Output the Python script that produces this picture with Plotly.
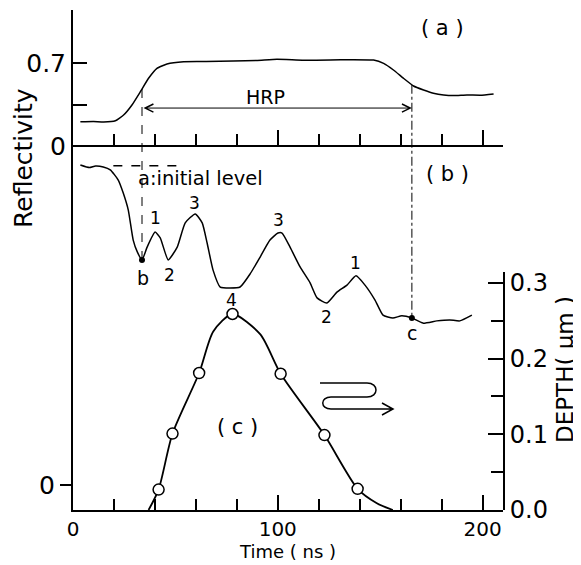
import numpy as np
import plotly.graph_objects as go

# ---- data ----
# (a) reflectivity vs time
t_a = [3.6, 10, 15, 20.7, 24.7, 28.8, 32.9, 36.9, 41.0, 45.9, 54.0, 65, 78.3, 90, 99.6,
       112, 125.6, 136, 146.8, 151.7, 156.5, 161.4, 166.3, 171.2, 176, 181.0, 186, 192.4, 199, 205.4]
r_a = [0.205, 0.207, 0.203, 0.213, 0.261, 0.346, 0.458, 0.571, 0.655, 0.692, 0.711, 0.712, 0.717,
       0.722, 0.731, 0.724, 0.725, 0.728, 0.725, 0.697, 0.641, 0.571, 0.506, 0.472, 0.445, 0.430,
       0.425, 0.430, 0.428, 0.439]

# (b) reflectivity (relative to initial level a)
t_b = [3.6, 8, 11, 14.8, 18.2, 22.1, 24.5, 27.0, 29.4, 31.4, 33.7, 36.2, 40.1, 42.6, 46.5, 50.9,
       54.8, 59.7, 63.1, 65.5, 68.4, 71.9, 76.7, 81.6, 86.5, 91.4, 96.2, 100.1, 102.1, 106.0,
       110.9, 115.8, 119.2, 124.0, 128.9, 133.8, 138.2, 142.6, 147.5, 151.4, 156.2, 160.6,
       165.5, 170.9, 177.7, 184.0, 188.9, 194.8]
r_b = [1.002, 0.994, 0.999, 0.996, 0.987, 0.955, 0.915, 0.861, 0.767, 0.730, 0.705, 0.745, 0.792,
       0.774, 0.705, 0.745, 0.821, 0.849, 0.821, 0.758, 0.673, 0.620, 0.617, 0.620, 0.661, 0.714,
       0.767, 0.789, 0.789, 0.745, 0.683, 0.633, 0.586, 0.570, 0.604, 0.626, 0.655, 0.626, 0.579,
       0.532, 0.523, 0.530, 0.523, 0.507, 0.514, 0.517, 0.514, 0.532]

# (c) melt depth
t_c_pts = [41.8, 48.6, 61.6, 77.9, 101.4, 122.8, 139.0]
d_c_pts = [0.027, 0.101, 0.181, 0.259, 0.180, 0.099, 0.028]
t_c_line = [36.9, 41.8, 48.6, 61.6, 68.5, 77.9, 91.5, 101.4, 122.8, 139.0, 148.4, 156.2]
d_c_line = [0.0, 0.027, 0.101, 0.181, 0.236, 0.259, 0.232, 0.180, 0.099, 0.028, 0.009, 0.0]

t_mark_b, t_mark_c = 33.7, 165.5
peak_labels_t = [40.2, 47.0, 59.3, 100.2, 123.7, 137.8]
peak_labels_v = [0.836, 0.658, 0.883, 0.830, 0.526, 0.695]
peak_labels = ["1", "2", "3", "3", "2", "1"]

x_ticks = [0, 100, 200]
depth_ticks = [0.0, 0.1, 0.2, 0.3]

# ---- axes ranges ----
XR = [0, 210]
YA = [-3.070, 1.147]     # reflectivity (a)
YB = [-0.0783, 1.4876]   # reflectivity (b)
YD = [0, 0.3145]         # depth
FONT = "DejaVu Sans"


def b_to_a(v):
    f = (v - YB[0]) / (YB[1] - YB[0])
    return YA[0] + f * (YA[1] - YA[0])


fig = go.Figure()
fig.add_trace(go.Scatter(x=t_a, y=r_a, xaxis="x2", yaxis="y", mode="lines",
                         line=dict(color="black", width=1.5, shape="spline", smoothing=0.4),
                         hoverinfo="skip"))
fig.add_trace(go.Scatter(x=t_b, y=r_b, xaxis="x", yaxis="y2", mode="lines",
                         line=dict(color="black", width=1.5, shape="spline", smoothing=0.5),
                         hoverinfo="skip"))
rb_b = float(np.interp(t_mark_b, t_b, r_b))
rb_c = float(np.interp(t_mark_c, t_b, r_b))
fig.add_trace(go.Scatter(x=[t_mark_b, t_mark_c], y=[rb_b, rb_c], xaxis="x", yaxis="y2",
                         mode="markers", marker=dict(color="black", size=6)))
fig.add_trace(go.Scatter(x=t_c_line, y=d_c_line, xaxis="x", yaxis="y3", mode="lines",
                         line=dict(color="black", width=1.8, shape="spline", smoothing=0.7)))
fig.add_trace(go.Scatter(x=t_c_pts, y=d_c_pts, xaxis="x", yaxis="y3", mode="markers",
                         marker=dict(symbol="circle", size=11, color="white",
                                     line=dict(color="black", width=1.5))))

ra_b = float(np.interp(t_mark_b, t_a, r_a))
ra_c = float(np.interp(t_mark_c, t_a, r_a))
shapes = [
    dict(type="line", xref="x", yref="y", x0=t_mark_b, x1=t_mark_b, y0=ra_b, y1=b_to_a(rb_b),
         line=dict(color="black", width=1, dash="dash")),
    dict(type="line", xref="x", yref="y", x0=t_mark_c, x1=t_mark_c, y0=ra_c, y1=b_to_a(rb_c),
         line=dict(color="black", width=1, dash="dashdot")),
    dict(type="line", xref="x", yref="y2", x0=19.7, x1=51.4, y0=1.0, y1=1.0,
         line=dict(color="black", width=1.5, dash="dash")),
]


# wiggle arrow symbol (reference pixel -> paper fraction of plot area)
def px(xp):
    return (xp - 73) / 430


def py(yp):
    return (510 - yp) / 500


path = (f"M{px(320)},{py(383)} L{px(367)},{py(383)} "
        f"C{px(379)},{py(383)} {px(379)},{py(397)} {px(367)},{py(397)} "
        f"L{px(331)},{py(397)} "
        f"C{px(320)},{py(397)} {px(320)},{py(409)} {px(331)},{py(409)} "
        f"L{px(393)},{py(409)} "
        f"M{px(382)},{py(403)} L{px(393)},{py(409)} L{px(382)},{py(415)}")
shapes.append(dict(type="path", xref="paper", yref="paper", path=path,
                   line=dict(color="black", width=1.5)))

ann = []
for tx, ty, s in zip(peak_labels_t, peak_labels_v, peak_labels):
    ann.append(dict(x=tx, y=ty, xref="x", yref="y2", text=s, showarrow=False,
                    font=dict(size=17, family=FONT, color="black")))
ann += [
    dict(x=34.3, y=0.648, xref="x", yref="y2", text="b", showarrow=False,
         font=dict(size=19, family=FONT, color="black")),
    dict(x=165.7, y=0.476, xref="x", yref="y2", text="c", showarrow=False,
         font=dict(size=19, family=FONT, color="black")),
    dict(x=31.0, y=0.961, xref="x", yref="y2", text="a:initial level", showarrow=False,
         xanchor="left", font=dict(size=19.5, family=FONT, color="black")),
    dict(x=182.8, y=0.974, xref="x", yref="y2", text="( b )", showarrow=False,
         font=dict(size=21, family=FONT, color="black")),
    dict(x=180.3, y=0.995, xref="x", yref="y", text="( a )", showarrow=False,
         font=dict(size=21, family=FONT, color="black")),
    dict(x=93.9, y=0.413, xref="x", yref="y", text="HRP", showarrow=False,
         font=dict(size=19, family=FONT, color="black")),
    dict(x=t_mark_c, y=0.32, xref="x", yref="y", ax=t_mark_b, ay=0.32, axref="x", ayref="y",
         text="", showarrow=True, arrowside="end+start", arrowhead=5, arrowsize=1.6,
         arrowwidth=1, arrowcolor="black"),
    dict(x=80.3, y=0.110, xref="x", yref="y3", text="( c )", showarrow=False,
         font=dict(size=21, family=FONT, color="black")),
    dict(x=77.6, y=0.2775, xref="x", yref="y3", text="4", showarrow=False,
         font=dict(size=17, family=FONT, color="black")),
    dict(x=px(23), y=py(158), xref="paper", yref="paper", text="Reflectivity", showarrow=False,
         xanchor="center", yanchor="middle",
         textangle=-90, font=dict(size=25, family=FONT, color="black")),
    dict(x=px(565), y=py(370), xref="paper", yref="paper", text="DEPTH( μm )", showarrow=False,
         xanchor="center", yanchor="middle",
         textangle=-90, font=dict(size=23, family=FONT, color="black")),
]

fig.update_layout(
    width=573, height=557, autosize=False,
    margin=dict(l=65, r=78, t=2, b=55),
    paper_bgcolor="white", plot_bgcolor="rgba(0,0,0,0)",
    showlegend=False,
    font=dict(family=FONT, color="black"),
    xaxis=dict(range=XR, domain=[0, 1], anchor="y", showline=True, linewidth=2, linecolor="black",
               ticks="inside", tickvals=x_ticks, ticklen=15, tickwidth=2, tickcolor="black",
               minor=dict(dtick=20, tick0=0, ticks="inside", ticklen=11, tickwidth=2, tickcolor="black"),
               showgrid=False, zeroline=False, automargin=False,
               tickfont=dict(size=20, family=FONT),
               title=dict(text="Time ( ns )", font=dict(size=18, family=FONT), standoff=4)),
    xaxis2=dict(range=XR, overlaying="x", anchor="free", position=0.728, showline=True,
                linewidth=2, linecolor="black", ticks="inside", tickvals=x_ticks, ticklen=15,
                tickwidth=2, tickcolor="black", showticklabels=False,
                minor=dict(dtick=20, tick0=0, ticks="inside", ticklen=11, tickwidth=2, tickcolor="black"),
                showgrid=False, zeroline=False, automargin=False),
    yaxis=dict(range=YA, domain=[0, 1], anchor="x", showline=True, linewidth=2, linecolor="black",
               ticks="inside", tickvals=[0, 0.35, 0.7], ticktext=["0", "", "0.7"], ticklen=14,
               tickwidth=2, tickcolor="black", showgrid=False, zeroline=False, automargin=False,
               tickfont=dict(size=25, family=FONT)),
    yaxis2=dict(range=YB, overlaying="y", anchor="x", side="left", showline=False, ticks="outside",
                tickvals=[0], ticktext=["0"], ticklen=12, tickwidth=2, tickcolor="black",
                showgrid=False, zeroline=False, automargin=False,
                tickfont=dict(size=25, family=FONT)),
    yaxis3=dict(range=YD, domain=[0, 0.476], anchor="x", side="right", showline=True, linewidth=2,
                linecolor="black", ticks="inside", tickvals=depth_ticks, tickformat=".1f",
                ticklen=15, tickwidth=2, tickcolor="black",
                minor=dict(dtick=0.05, tick0=0, ticks="inside", ticklen=12, tickwidth=2, tickcolor="black"),
                showgrid=False, zeroline=False, automargin=False,
                tickfont=dict(size=24, family=FONT)),
    shapes=shapes,
    annotations=ann,
)

fig.write_html("out.html")
